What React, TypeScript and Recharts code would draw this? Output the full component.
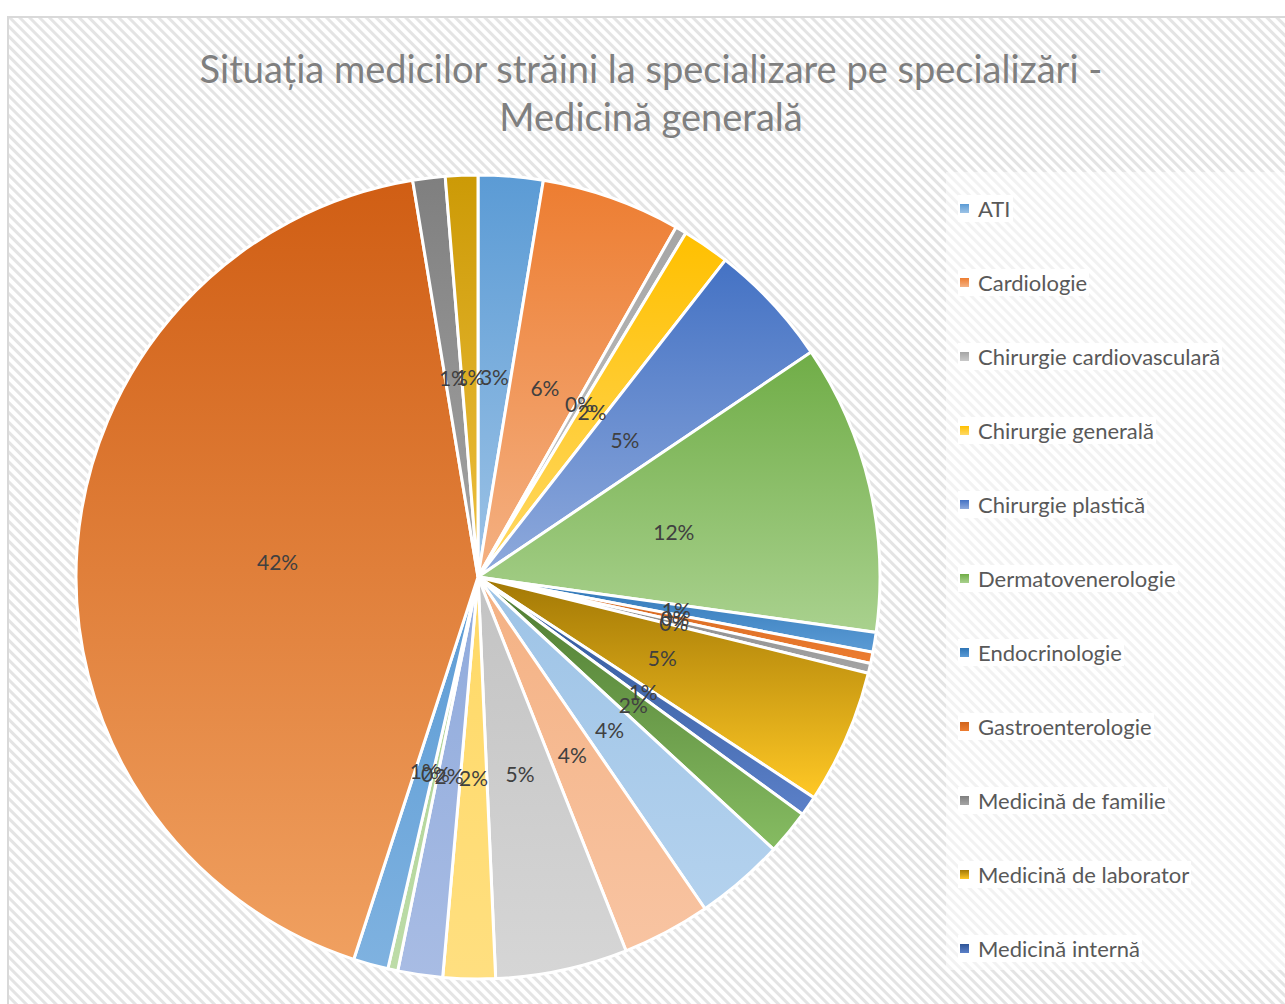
import { PieChart, Pie, Cell, Legend } from "recharts";

const categories = [
  "ATI",
  "Cardiologie",
  "Chirurgie cardiovasculară",
  "Chirurgie generală",
  "Chirurgie plastică",
  "Dermatovenerologie",
  "Endocrinologie",
  "Gastroenterologie",
  "Medicină de familie",
  "Medicină de laborator",
  "Medicină internă",
  "Nefrologie",
  "Neurologie",
  "Obstetrică-ginecologie",
  "Oftalmologie",
  "ORL",
  "Ortopedie și traumatologie",
  "Pediatrie",
  "Psihiatrie",
  "Radiologie-imagistică medicală",
  "Reumatologie",
  "Urologie",
];

// share of each specialty, in percent
const shares = [
  2.6, 5.6, 0.45, 1.9, 5.0, 11.65, 0.8, 0.45, 0.4, 5.4, 0.8,
  1.8, 3.6, 3.55, 5.3, 2.1, 1.8, 0.4, 1.4, 42.4, 1.3, 1.3,
];

const topColors = [
  "#5B9BD5", "#ED7D31", "#A5A5A5", "#FFC000", "#4472C4", "#70AD47",
  "#2E75B6", "#D0641C", "#7F7F7F", "#A27805", "#2F5597", "#4E7A31",
  "#9DC3E6", "#F4B183", "#C3C3C3", "#FFD966", "#8FAADC", "#A9D18E",
  "#5B9BD5", "#D05E14", "#7F7F7F", "#CC9A06",
];

const bottomColors = [
  "#9DC3E6", "#F4B183", "#C9C9C9", "#FFD966", "#8FAADC", "#A9D18E",
  "#5B9BD5", "#ED7D31", "#A5A5A5", "#FFC825", "#5B80C8", "#86BC62",
  "#B4D2EE", "#F8C4A2", "#D6D6D6", "#FFDF80", "#A8BCE4", "#BDDCA8",
  "#7FB2E0", "#F0A060", "#A5A5A5", "#EEC040",
];

const legendCount = 11;

const data = categories.map((name, i) => ({ name, value: shares[i] }));

const RAD = Math.PI / 180;
const FONT = "Lato, 'Open Sans', sans-serif";

const renderLabel = (props: any) => {
  const { cx, cy, midAngle, outerRadius, percent } = props;
  const r = outerRadius * 0.5;
  const x = cx + r * Math.cos(-midAngle * RAD);
  const y = cy + r * Math.sin(-midAngle * RAD);
  return (
    <text
      x={x}
      y={y}
      fill="#404040"
      fontSize={21}
      fontFamily={FONT}
      textAnchor="middle"
      dominantBaseline="central"
    >
      {`${Math.round(percent * 100)}%`}
    </text>
  );
};

const renderLegend = () => (
  <div style={{ display: "flex", flexDirection: "column" }}>
    {categories.slice(0, legendCount).map((name, i) => (
      <div key={name} style={{ height: 74, display: "flex", alignItems: "center" }}>
        <span style={{ display: "flex", alignItems: "center", background: "#fff", padding: "0 2px" }}>
          <span
            style={{
              width: 9,
              height: 9,
              marginRight: 9,
              background: `linear-gradient(${topColors[i]}, ${bottomColors[i]})`,
            }}
          />
          <span style={{ fontSize: 22, color: "#595959", fontFamily: FONT }}>{name}</span>
        </span>
      </div>
    ))}
  </div>
);

const App = () => (
  <div style={{ position: "absolute", left: 0, top: 0, width: 1285, height: 1004, overflow: "hidden", background: "#fff" }}>
    <svg width={1285} height={1004} style={{ position: "absolute", left: 0, top: 0 }}>
      <defs>
        <pattern id="hatch" width="7" height="7" patternUnits="userSpaceOnUse" patternTransform="rotate(-45)">
          <rect width="7" height="7" fill="#FFFFFF" />
          <rect width="3" height="7" fill="#E4E4E4" />
        </pattern>
      </defs>
      <rect x={8} y={17} width={1290} height={1000} fill="url(#hatch)" stroke="#D9D9D9" strokeWidth={2} />
      <rect x={946} y={172} width={345} height={798} fill="#FFFFFF" fillOpacity={0.5} />
    </svg>

    <div
      style={{
        position: "absolute",
        left: 0,
        top: 44,
        width: 1302,
        textAlign: "center",
        fontFamily: FONT,
        fontSize: 38,
        lineHeight: "48px",
        color: "#7F7F7F",
      }}
    >
      Situația medicilor străini la specializare pe specializări -
      <br />
      Medicină generală
    </div>

    <div style={{ position: "absolute", left: 0, top: 0 }}>
      <PieChart width={1285} height={1004} margin={{ top: 0, right: 0, bottom: 0, left: 0 }}>
        <defs>
          {categories.map((_, i) => (
            <linearGradient key={i} id={`grad${i}`} x1="0" y1="0" x2="0" y2="1">
              <stop offset="0%" stopColor={topColors[i]} />
              <stop offset="100%" stopColor={bottomColors[i]} />
            </linearGradient>
          ))}
        </defs>
        <Pie
          data={data}
          dataKey="value"
          nameKey="name"
          cx={478}
          cy={577}
          outerRadius={402}
          startAngle={90}
          endAngle={-270}
          stroke="#FFFFFF"
          strokeWidth={3}
          label={renderLabel}
          labelLine={false}
          isAnimationActive={false}
        >
          {data.map((_, i) => (
            <Cell key={i} fill={`url(#grad${i})`} />
          ))}
        </Pie>
        <Legend
          content={renderLegend}
          wrapperStyle={{ position: "absolute", left: 958, top: 171, width: 327, height: 814 }}
        />
      </PieChart>
    </div>
  </div>
);

export default App;
